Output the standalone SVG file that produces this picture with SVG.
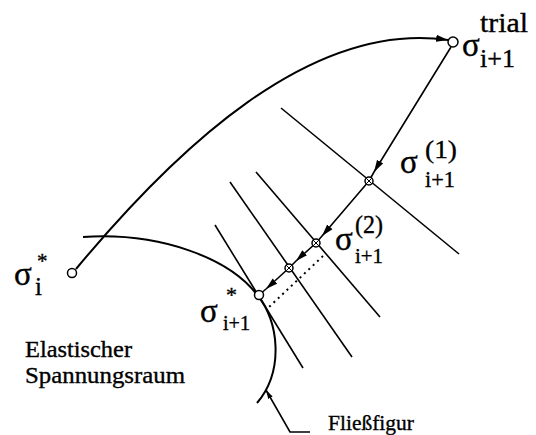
<svg xmlns="http://www.w3.org/2000/svg" width="536" height="435" viewBox="0 0 536 435">
<style>
.ln{fill:none;stroke:#000;stroke-width:1.6}
.cv{fill:none;stroke:#000;stroke-width:2}
.pt{fill:#fff;stroke:#000;stroke-width:1.5}
text{font-family:'Liberation Serif','Times New Roman',serif;fill:#000;stroke:#000;stroke-width:0.35}
</style>
<defs>
<marker id="ah" markerUnits="userSpaceOnUse" markerWidth="14" markerHeight="8" refX="12" refY="4" orient="auto">
<path d="M0,0.5 L12,4 L0,7.5 z" fill="#000"/>
</marker>
<marker id="ahs" markerUnits="userSpaceOnUse" markerWidth="10" markerHeight="6" refX="9" refY="3" orient="auto">
<path d="M0,0.5 L9,3 L0,5.5 z" fill="#000"/>
</marker>
</defs>
<g id="yield-surface">
<path class="cv" d="M83,237 C160,232 230,258 258,296 C278,320 285,370 257,403"/>
</g>
<g id="tangent-lines">
<line class="ln" x1="281" y1="108" x2="459" y2="254"/>
<line class="ln" x1="256" y1="172" x2="380" y2="317"/>
<line class="ln" x1="230" y1="182" x2="352" y2="357"/>
<line class="ln" x1="215" y1="225" x2="303" y2="368"/>
</g>
<g id="connectors">
<path class="cv" d="M76,269 C175,150 310,20 448,40" marker-end="url(#ah)"/>
<path class="ln" d="M451,47 L374,172 L369,181" marker-mid="url(#ah)"/>
<path class="ln" d="M369,181 L322,236 L316,243" marker-mid="url(#ah)"/>
<path class="ln" d="M316,243 L296,261 L289,268" marker-mid="url(#ah)"/>
<path class="ln" d="M289,268 L266,289 L259,295" marker-mid="url(#ah)"/>
<line x1="323" y1="256" x2="268" y2="308" stroke="#000" stroke-width="2" stroke-dasharray="2,4"/>
<path class="ln" d="M310,432 L290,432 L266,390" marker-end="url(#ahs)"/>
</g>
<g id="sigma-i">
<circle class="pt" cx="72" cy="273" r="4.5"/>
<text x="14" y="285" font-size="33">σ</text>
<text x="37" y="268" font-size="21">*</text>
<text x="35" y="295" font-size="25">i</text>
</g>
<g id="sigma-trial">
<circle class="pt" cx="453" cy="42" r="5"/>
<text x="462" y="56" font-size="33">σ</text>
<text x="480" y="32" font-size="27" textLength="48" lengthAdjust="spacingAndGlyphs">trial</text>
<text x="480" y="67" font-size="25" textLength="35" lengthAdjust="spacingAndGlyphs">i+1</text>
</g>
<g id="sigma-1">
<circle class="pt" cx="369" cy="181" r="4"/>
<path d="M366.2,178.2 L371.8,183.8 M371.8,178.2 L366.2,183.8" stroke="#000" stroke-width="1"/>
<text x="400" y="173" font-size="33">σ</text>
<text x="425" y="158" font-size="26" textLength="32" lengthAdjust="spacingAndGlyphs">(1)</text>
<text x="425" y="187" font-size="23" textLength="30" lengthAdjust="spacingAndGlyphs">i+1</text>
</g>
<g id="sigma-2">
<circle class="pt" cx="316" cy="243" r="4"/>
<path d="M313.2,240.2 L318.8,245.8 M318.8,240.2 L313.2,245.8" stroke="#000" stroke-width="1"/>
<text x="335" y="250" font-size="33">σ</text>
<text x="355" y="233" font-size="25" textLength="28" lengthAdjust="spacingAndGlyphs">(2)</text>
<text x="355" y="263" font-size="22" textLength="28" lengthAdjust="spacingAndGlyphs">i+1</text>
</g>
<g id="sigma-3">
<circle class="pt" cx="289" cy="268" r="4"/>
<path d="M286.2,265.2 L291.8,270.8 M291.8,265.2 L286.2,270.8" stroke="#000" stroke-width="1"/>
</g>
<g id="sigma-star">
<circle class="pt" cx="259" cy="295" r="4.5"/>
<text x="200" y="322" font-size="33">σ</text>
<text x="226" y="302" font-size="22">*</text>
<text x="223" y="330" font-size="21" textLength="27" lengthAdjust="spacingAndGlyphs">i+1</text>
</g>
<g id="labels">
<text x="25" y="357" font-size="23" textLength="107" lengthAdjust="spacingAndGlyphs">Elastischer</text>
<text x="25" y="383" font-size="23" textLength="160" lengthAdjust="spacingAndGlyphs">Spannungsraum</text>
<text x="328" y="430" font-size="22" textLength="86" lengthAdjust="spacingAndGlyphs">Fließfigur</text>
</g>
</svg>
